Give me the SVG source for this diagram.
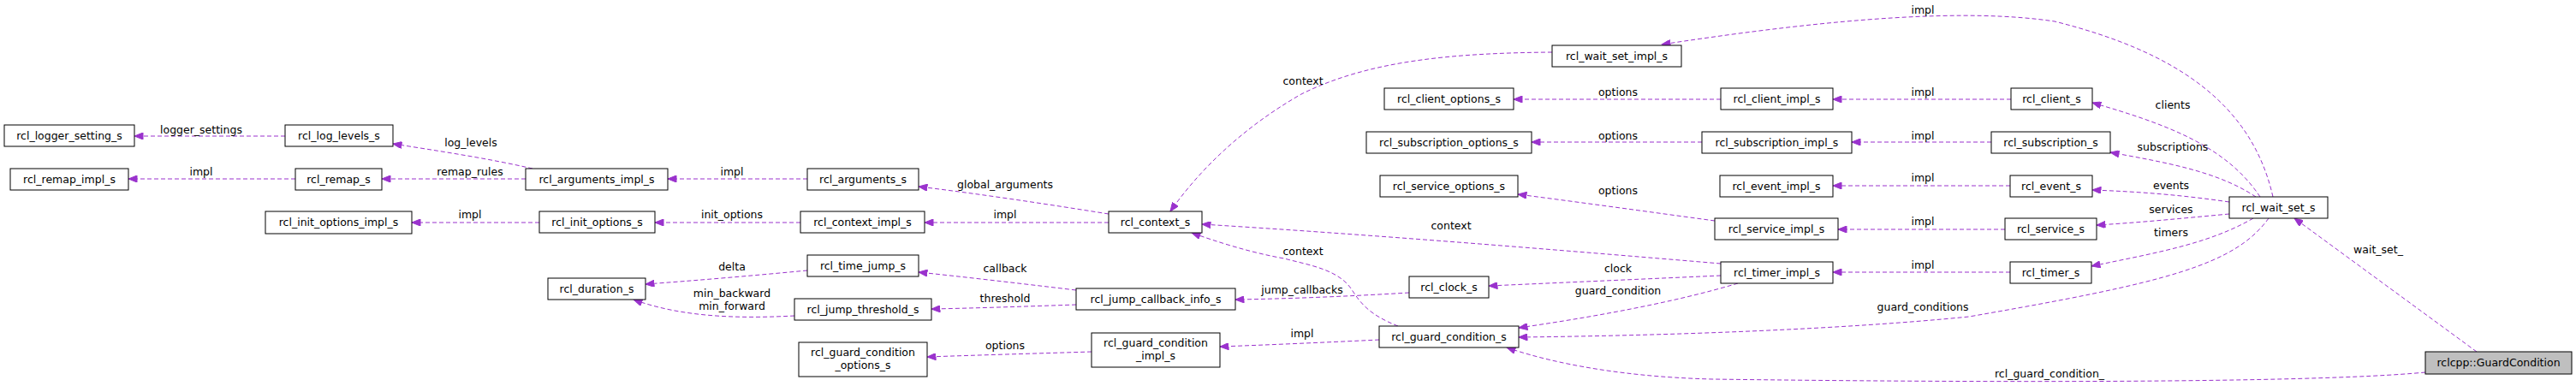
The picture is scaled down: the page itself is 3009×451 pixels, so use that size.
<svg xmlns="http://www.w3.org/2000/svg" width="3009" height="451" viewBox="0 0 3009 451">
<style>
.n rect{fill:#fff;stroke:#000;stroke-width:1}
.n text,.l{font-family:"DejaVu Sans",sans-serif;font-size:12.5px;fill:#000;text-anchor:middle}
.e path{fill:none;stroke:#9a32cd;stroke-width:1;stroke-dasharray:5,3;marker-end:url(#a)}
</style>
<defs><marker id="a" viewBox="0 0 10 8" refX="10" refY="4" markerWidth="11" markerHeight="8" markerUnits="userSpaceOnUse" orient="auto"><path d="M0,0L10,4L0,8z" fill="#9a32cd" stroke="#9a32cd"/></marker></defs>
<rect width="3009" height="451" fill="#fff"/>
<g class="e">
<path d="M333,159H157"/>
<path d="M622,197C570,185 510,176 459,168"/>
<path d="M614,209H446"/>
<path d="M345,209H150"/>
<path d="M630,260H481"/>
<path d="M943,209H780"/>
<path d="M935,260H765"/>
<path d="M1295,250C1220,238 1140,226 1073,218"/>
<path d="M1295,260H1080"/>
<path d="M943,316C880,322 810,328 754,332"/>
<path d="M928,369C870,372 800,372 740,350"/>
<path d="M1257,339C1190,331 1130,324 1073,318"/>
<path d="M1257,356C1200,358 1140,360 1088,361"/>
<path d="M1275,411C1210,413 1140,415 1083,417"/>
<path d="M1646,342C1580,346 1510,349 1443,350"/>
<path d="M1611,397C1550,400 1480,403 1425,405"/>
<path d="M1633,381C1600,368 1590,355 1580,340C1565,315 1530,310 1500,302C1460,295 1420,282 1392,272"/>
<path d="M1813,61C1700,62 1600,70 1520,110C1450,150 1400,200 1367,247"/>
<path d="M2010,308C1820,292 1600,274 1404,262"/>
<path d="M2003,258C1930,248 1850,237 1773,227"/>
<path d="M2010,116H1768"/>
<path d="M1988,166H1789"/>
<path d="M2010,322C1920,326 1830,330 1739,334"/>
<path d="M2030,331C1950,355 1850,372 1774,383"/>
<path d="M2650,255C2610,310 2530,330 2300,370C2150,385 1950,392 1774,394"/>
<path d="M2833,435C2700,448 2300,447 2000,443C1880,440 1800,420 1760,406"/>
<path d="M2893,411L2680,255"/>
<path d="M2655,230C2630,120 2540,60 2400,25C2300,10 2150,20 1941,52"/>
<path d="M2640,230C2600,170 2530,145 2444,120"/>
<path d="M2635,230C2590,200 2530,190 2465,178"/>
<path d="M2604,236C2550,228 2500,224 2444,222"/>
<path d="M2604,250C2550,255 2500,260 2449,263"/>
<path d="M2632,255C2580,285 2520,295 2443,311"/>
<path d="M2349,116H2141"/>
<path d="M2326,166H2163"/>
<path d="M2348,217H2141"/>
<path d="M2342,268H2147"/>
<path d="M2348,318H2141"/>
</g>
<g>
<text class="l" x="235" y="156">logger_settings</text>
<text class="l" x="550" y="171">log_levels</text>
<text class="l" x="549" y="205">remap_rules</text>
<text class="l" x="235" y="205">impl</text>
<text class="l" x="549" y="255">impl</text>
<text class="l" x="855" y="205">impl</text>
<text class="l" x="855" y="255">init_options</text>
<text class="l" x="855" y="316">delta</text>
<text class="l" x="855" y="347">min_backward</text>
<text class="l" x="855" y="362">min_forward</text>
<text class="l" x="1174" y="220">global_arguments</text>
<text class="l" x="1174" y="255">impl</text>
<text class="l" x="1174" y="318">callback</text>
<text class="l" x="1174" y="353">threshold</text>
<text class="l" x="1174" y="408">options</text>
<text class="l" x="1522" y="99">context</text>
<text class="l" x="1695" y="268">context</text>
<text class="l" x="1522" y="298">context</text>
<text class="l" x="1521" y="343">jump_callbacks</text>
<text class="l" x="1521" y="394">impl</text>
<text class="l" x="1890" y="112">options</text>
<text class="l" x="1890" y="163">options</text>
<text class="l" x="1890" y="227">options</text>
<text class="l" x="1890" y="318">clock</text>
<text class="l" x="1890" y="344">guard_condition</text>
<text class="l" x="2246" y="112">impl</text>
<text class="l" x="2246" y="163">impl</text>
<text class="l" x="2246" y="212">impl</text>
<text class="l" x="2246" y="263">impl</text>
<text class="l" x="2246" y="314">impl</text>
<text class="l" x="2246" y="363">guard_conditions</text>
<text class="l" x="2394" y="441">rcl_guard_condition_</text>
<text class="l" x="2246" y="16">impl</text>
<text class="l" x="2538" y="127">clients</text>
<text class="l" x="2538" y="176">subscriptions</text>
<text class="l" x="2536" y="221">events</text>
<text class="l" x="2536" y="249">services</text>
<text class="l" x="2536" y="276">timers</text>
<text class="l" x="2778" y="296">wait_set_</text>
</g>
<g id="logger" class="n"><rect x="5" y="146" width="152" height="25"/><text x="81" y="163">rcl_logger_setting_s</text></g>
<g id="loglevels" class="n"><rect x="333" y="146" width="126" height="25"/><text x="396" y="163">rcl_log_levels_s</text></g>
<g id="remapimpl" class="n"><rect x="12" y="197" width="138" height="25"/><text x="81" y="214">rcl_remap_impl_s</text></g>
<g id="remap" class="n"><rect x="345" y="197" width="101" height="25"/><text x="395.5" y="214">rcl_remap_s</text></g>
<g id="initoptimpl" class="n"><rect x="310" y="247" width="171" height="26"/><text x="395.5" y="264">rcl_init_options_impl_s</text></g>
<g id="argsimpl" class="n"><rect x="614" y="197" width="166" height="25"/><text x="697" y="214">rcl_arguments_impl_s</text></g>
<g id="initopt" class="n"><rect x="630" y="247" width="135" height="25"/><text x="697.5" y="264">rcl_init_options_s</text></g>
<g id="duration" class="n"><rect x="640" y="325" width="114" height="25"/><text x="697" y="342">rcl_duration_s</text></g>
<g id="args" class="n"><rect x="943" y="197" width="130" height="25"/><text x="1008" y="214">rcl_arguments_s</text></g>
<g id="ctximpl" class="n"><rect x="935" y="247" width="145" height="25"/><text x="1007.5" y="264">rcl_context_impl_s</text></g>
<g id="timejump" class="n"><rect x="943" y="298" width="130" height="25"/><text x="1008" y="315">rcl_time_jump_s</text></g>
<g id="jumpthr" class="n"><rect x="928" y="349" width="160" height="25"/><text x="1008" y="366">rcl_jump_threshold_s</text></g>
<g id="gcopts" class="n"><rect x="933" y="400" width="150" height="40"/><text x="1008" y="416">rcl_guard_condition</text><text x="1008" y="431">_options_s</text></g>
<g id="context" class="n"><rect x="1295" y="247" width="109" height="25"/><text x="1349.5" y="264">rcl_context_s</text></g>
<g id="jumpcb" class="n"><rect x="1257" y="337" width="186" height="25"/><text x="1350" y="354">rcl_jump_callback_info_s</text></g>
<g id="gcimpl" class="n"><rect x="1275" y="389" width="150" height="40"/><text x="1350" y="405">rcl_guard_condition</text><text x="1350" y="420">_impl_s</text></g>
<g id="wsimpl" class="n"><rect x="1813" y="53" width="151" height="25"/><text x="1888.5" y="70">rcl_wait_set_impl_s</text></g>
<g id="clientopts" class="n"><rect x="1617" y="103" width="151" height="25"/><text x="1692.5" y="120">rcl_client_options_s</text></g>
<g id="subopts" class="n"><rect x="1596" y="154" width="193" height="25"/><text x="1692.5" y="171">rcl_subscription_options_s</text></g>
<g id="srvopts" class="n"><rect x="1612" y="205" width="161" height="25"/><text x="1692.5" y="222">rcl_service_options_s</text></g>
<g id="clock" class="n"><rect x="1646" y="323" width="93" height="25"/><text x="1692.5" y="340">rcl_clock_s</text></g>
<g id="gc" class="n"><rect x="1611" y="381" width="163" height="25"/><text x="1692.5" y="398">rcl_guard_condition_s</text></g>
<g id="clientimpl" class="n"><rect x="2010" y="103" width="131" height="25"/><text x="2075.5" y="120">rcl_client_impl_s</text></g>
<g id="subimpl" class="n"><rect x="1988" y="154" width="175" height="25"/><text x="2075.5" y="171">rcl_subscription_impl_s</text></g>
<g id="eventimpl" class="n"><rect x="2009" y="205" width="132" height="25"/><text x="2075" y="222">rcl_event_impl_s</text></g>
<g id="srvimpl" class="n"><rect x="2003" y="255" width="144" height="25"/><text x="2075" y="272">rcl_service_impl_s</text></g>
<g id="timerimpl" class="n"><rect x="2010" y="306" width="131" height="25"/><text x="2075.5" y="323">rcl_timer_impl_s</text></g>
<g id="client" class="n"><rect x="2349" y="103" width="95" height="25"/><text x="2396.5" y="120">rcl_client_s</text></g>
<g id="sub" class="n"><rect x="2326" y="154" width="139" height="25"/><text x="2395.5" y="171">rcl_subscription_s</text></g>
<g id="event" class="n"><rect x="2348" y="205" width="96" height="25"/><text x="2396" y="222">rcl_event_s</text></g>
<g id="service" class="n"><rect x="2342" y="255" width="107" height="25"/><text x="2395.5" y="272">rcl_service_s</text></g>
<g id="timer" class="n"><rect x="2348" y="306" width="95" height="25"/><text x="2395.5" y="323">rcl_timer_s</text></g>
<g id="waitset" class="n"><rect x="2604" y="230" width="115" height="25"/><text x="2661.5" y="247">rcl_wait_set_s</text></g>
<g id="guardcondition" class="n"><rect x="2833" y="411" width="171" height="26" style="fill:#bfbfbf"/><text x="2918.5" y="428">rclcpp::GuardCondition</text></g>
</svg>
